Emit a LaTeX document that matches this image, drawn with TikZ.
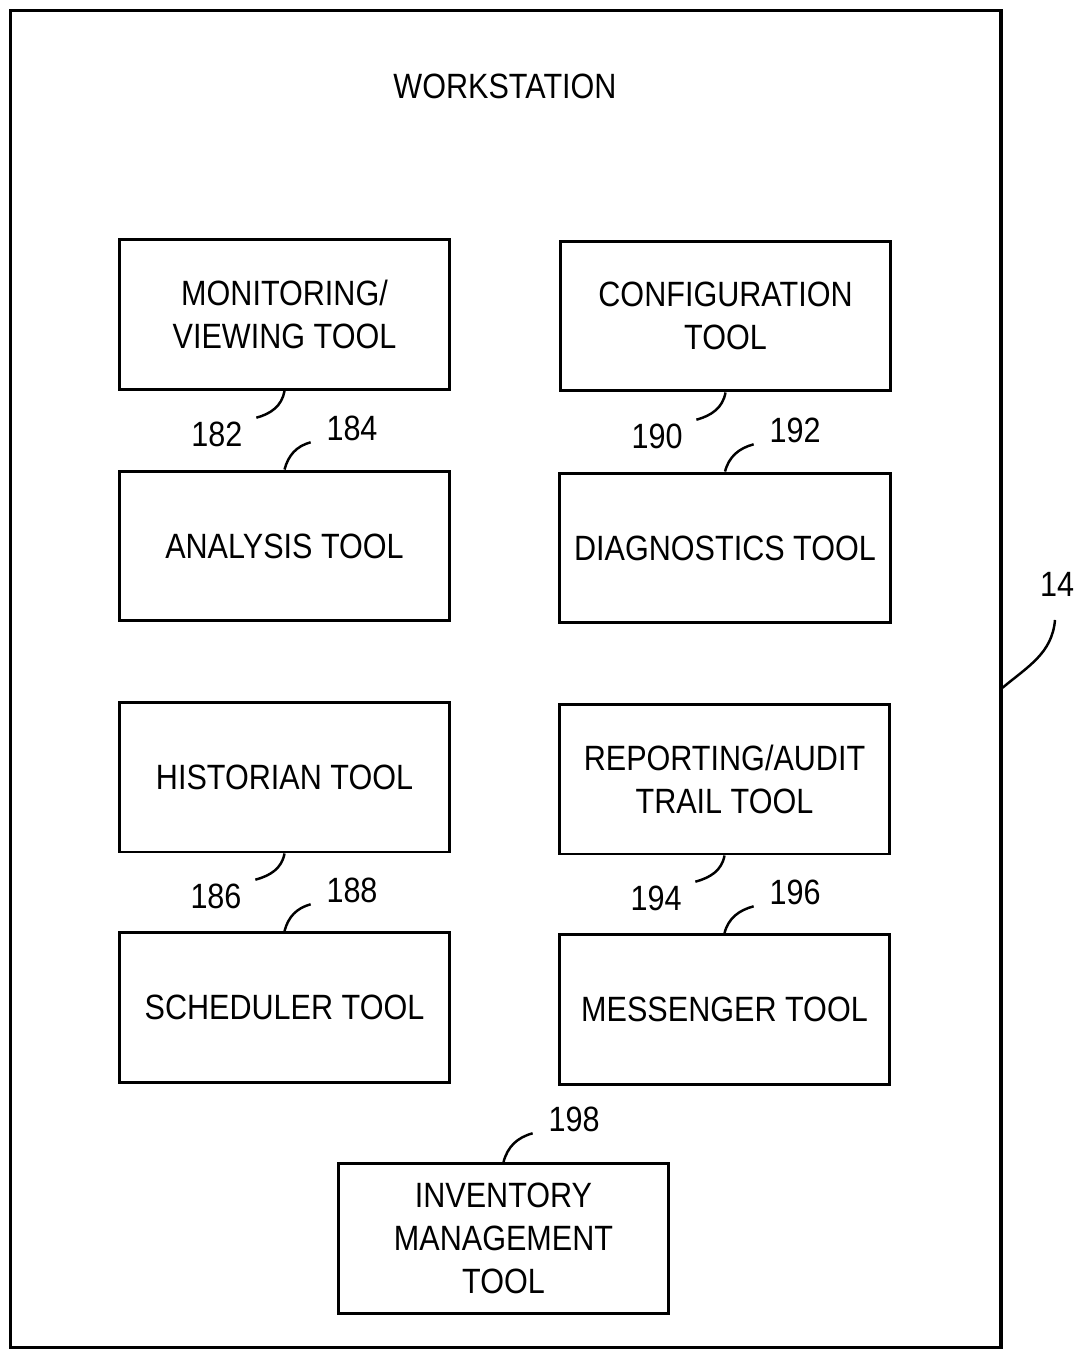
\documentclass[tikz,border=0pt]{standalone}
\usepackage{fontspec}
\setmainfont[FakeStretch=0.87]{Liberation Sans}
\usetikzlibrary{positioning}
\newcommand\toolfont{\fontsize{20}{24.4}\selectfont}
\tikzset{
  frame/.style = {
    draw,
    line width=1.8pt,
    minimum width=19.82cm,
    minimum height=26.76cm
  },
  tool/.style = {
    draw,
    line width=1.7pt,
    minimum width=6.62cm,
    minimum height=3cm,
    align=center,
    font=\toolfont
  },
  num/.style = {
    inner sep=2pt,
    font=\toolfont
  },
  lead/.style = {
    line width=1.4pt
  }
}

\begin{document}
\begin{tikzpicture}[x=0.02cm, y=-0.02cm]
    \useasboundingbox (0,0) rectangle (1077,1351);

    \node[frame] (ws) at (505.5,679) {};
    \node[font=\toolfont] (wstitle) at (505,86) {WORKSTATION};

    \node[tool] (mon)   at (284.5,314.5)  {MONITORING/\\VIEWING TOOL};
    \node[tool] (conf)  at (725.5,316)    {CONFIGURATION\\TOOL};
    \node[tool] (ana)   at (284.5,546)    {ANALYSIS TOOL};
    \node[tool] (diag)  at (725,548)      {DIAGNOSTICS TOOL};
    \node[tool] (hist)  at (284.5,777)    {HISTORIAN TOOL};
    \node[tool] (rep)   at (724.5,779)    {REPORTING/AUDIT\\TRAIL TOOL};
    \node[tool] (sched) at (284.5,1007.5) {SCHEDULER TOOL};
    \node[tool] (mess)  at (724.5,1009.5) {MESSENGER TOOL};
    \node[tool] (inv)   at (503.5,1238.5) {INVENTORY\\MANAGEMENT\\TOOL};

    \node[num] (l182) at (217,434)  {182};
    \node[num] (l184) at (352,428)  {184};
    \node[num] (l190) at (657,436)  {190};
    \node[num] (l192) at (795,430)  {192};
    \node[num] (l186) at (216,896)  {186};
    \node[num] (l188) at (352,890)  {188};
    \node[num] (l194) at (656,898)  {194};
    \node[num] (l196) at (795,892)  {196};
    \node[num] (l198) at (574,1119) {198};
    \node[num] (l14)  at (1057,584) {14};

    \draw[lead] ([shift={(10,0)}]l182.north east) to[out=15,in=-100] (mon.south);
    \draw[lead] ([shift={(-12,-2)}]l184.south west) to[out=195,in=75] (ana.north);
    \draw[lead] ([shift={(10,0)}]l190.north east) to[out=15,in=-100] (conf.south);
    \draw[lead] ([shift={(-12,-2)}]l192.south west) to[out=195,in=75] (diag.north);
    \draw[lead] ([shift={(10,0)}]l186.north east) to[out=15,in=-100] (hist.south);
    \draw[lead] ([shift={(-12,-2)}]l188.south west) to[out=195,in=75] (sched.north);
    \draw[lead] ([shift={(10,0)}]l194.north east) to[out=15,in=-100] (rep.south);
    \draw[lead] ([shift={(-12,-2)}]l196.south west) to[out=195,in=75] (mess.north);
    \draw[lead] ([shift={(-12,-2)}]l198.south west) to[out=195,in=75] (inv.north);
    \draw[lead] ([shift={(-2,20)}]l14.south) to[out=-95,in=40] ([yshift=-5]ws.east);
\end{tikzpicture}
\end{document}
